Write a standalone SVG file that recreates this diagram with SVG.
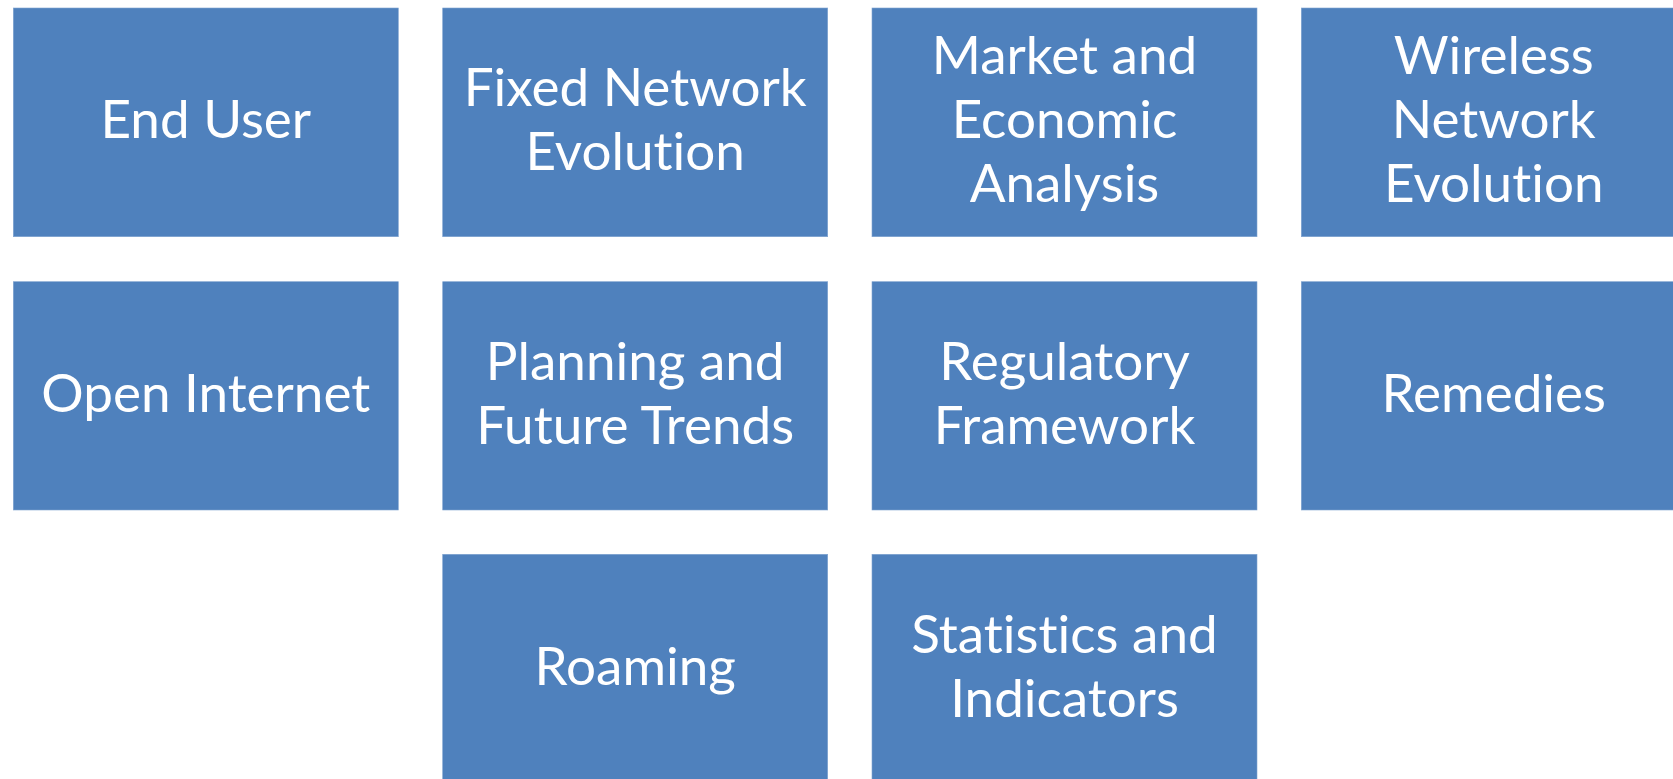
<svg xmlns="http://www.w3.org/2000/svg" width="1673" height="779" viewBox="0 0 1673 779">
<style>
.box{fill:#4F81BD;stroke:#7FA3D0;stroke-width:0.6}
.lbl{fill:#FFFFFF;font-family:Lato,"Open Sans","Liberation Sans",sans-serif;font-size:53px;text-anchor:middle;font-variant-ligatures:none;font-feature-settings:"liga" 0,"clig" 0}
</style>
<rect width="1673" height="779" fill="#FFFFFF"/>
<g id="connectors"></g>
<g id="n-end-user"><rect class="box" x="13.3" y="8" width="385" height="228.7"/><text class="lbl" x="205.8" y="138.3">End User</text></g>
<g id="n-fixed"><rect class="box" x="442.7" y="8" width="385" height="228.7"/><text class="lbl" x="635.2" y="106.3">Fixed Network</text><text class="lbl" x="635.2" y="170.3">Evolution</text></g>
<g id="n-market"><rect class="box" x="872" y="8" width="385" height="228.7"/><text class="lbl" x="1064.5" y="74.3">Market and</text><text class="lbl" x="1064.5" y="138.3">Economic</text><text class="lbl" x="1064.5" y="202.3">Analysis</text></g>
<g id="n-wireless"><rect class="box" x="1301.3" y="8" width="385" height="228.7"/><text class="lbl" x="1493.8" y="74.3">Wireless</text><text class="lbl" x="1493.8" y="138.3">Network</text><text class="lbl" x="1493.8" y="202.3">Evolution</text></g>
<g id="n-open"><rect class="box" x="13.3" y="281.7" width="385" height="228.3"/><text class="lbl" x="205.8" y="411.8">Open Internet</text></g>
<g id="n-planning"><rect class="box" x="442.7" y="281.7" width="385" height="228.3"/><text class="lbl" x="635.2" y="379.8">Planning and</text><text class="lbl" x="635.2" y="443.8">Future Trends</text></g>
<g id="n-regulatory"><rect class="box" x="872" y="281.7" width="385" height="228.3"/><text class="lbl" x="1064.5" y="379.8">Regulatory</text><text class="lbl" x="1064.5" y="443.8">Framework</text></g>
<g id="n-remedies"><rect class="box" x="1301.3" y="281.7" width="385" height="228.3"/><text class="lbl" x="1493.8" y="411.8">Remedies</text></g>
<g id="n-roaming"><rect class="box" x="442.7" y="554.3" width="385" height="228.7"/><text class="lbl" x="635.2" y="684.7">Roaming</text></g>
<g id="n-statistics"><rect class="box" x="872" y="554.3" width="385" height="228.7"/><text class="lbl" x="1064.5" y="652.7">Statistics and</text><text class="lbl" x="1064.5" y="716.7">Indicators</text></g>
</svg>
